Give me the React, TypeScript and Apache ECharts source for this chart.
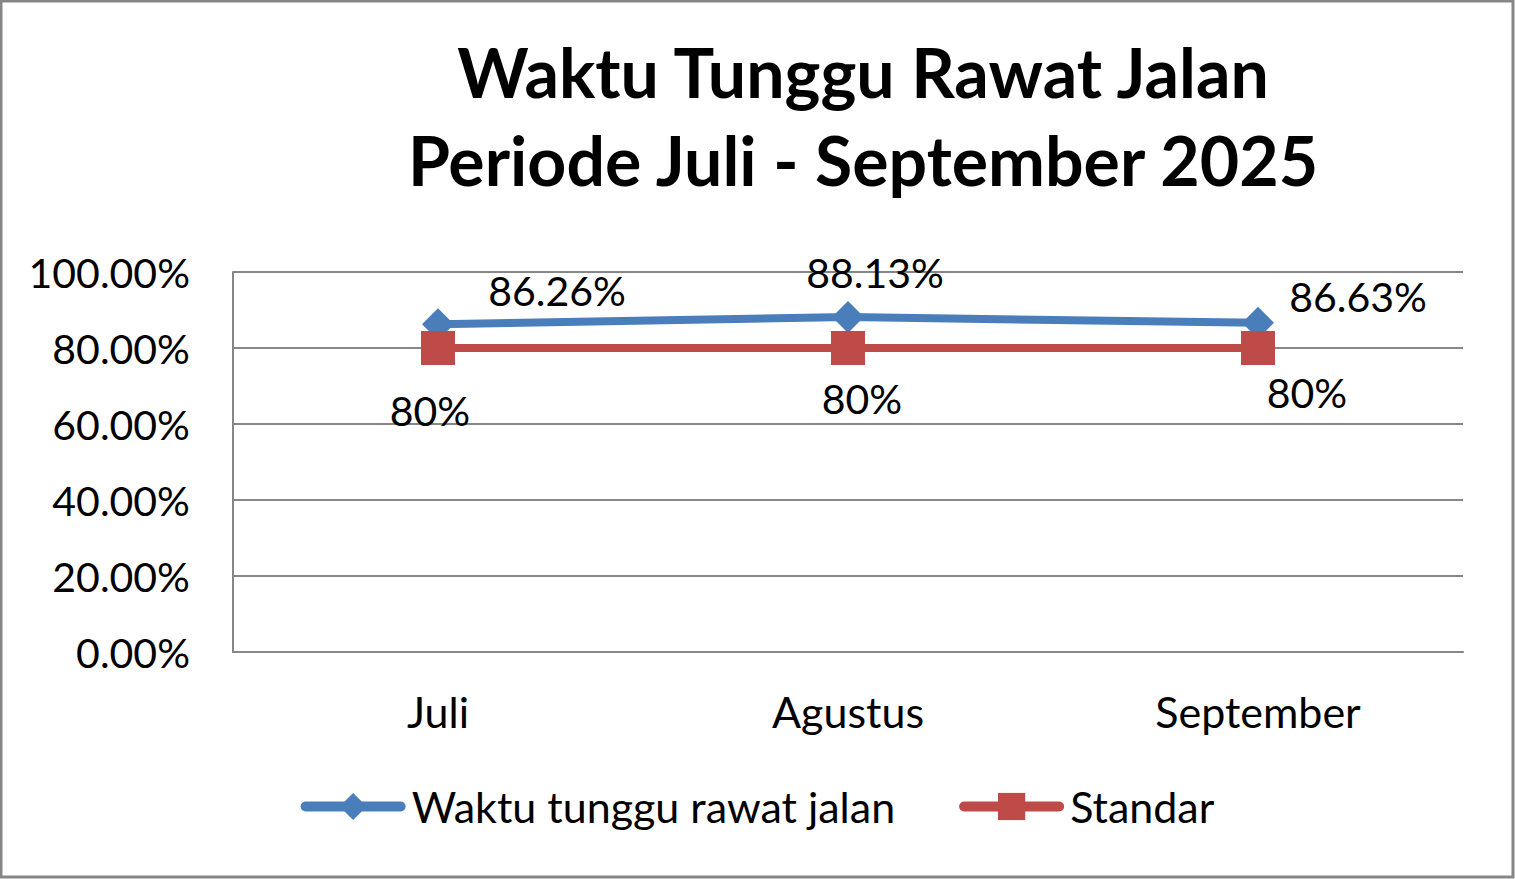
import React, { useEffect, useRef } from 'react';
import * as echarts from 'echarts';

const months = ['Juli', 'Agustus', 'September'];
const waktuTunggu = [86.26, 88.13, 86.63];
const standar = [80, 80, 80];
const yTicks = [0, 20, 40, 60, 80, 100];

// label offsets (dx, dy) from each point, as placed in the original sheet
const waktuLabelOffsets = [[119, -34], [27, -45], [100, -26]];
const standarLabelOffsets = [[-8, 62], [14, 50], [49, 44]];

const FONT = 'Lato, "Open Sans", sans-serif';
const GRID_GRAY = '#868686';
const BLUE = '#4A7EBB';
const RED = '#BE4B48';

const App: React.FC = () => {
    const chartRef = useRef<HTMLDivElement>(null);

    useEffect(() => {
        if (!chartRef.current) return;
        const chart = echarts.init(chartRef.current, undefined, { renderer: 'svg' });

        const labelStyle = {
            show: true,
            position: 'inside' as const,
            color: '#000',
            fontFamily: FONT,
            fontSize: 41,
            formatter: (p: any) => (p.seriesIndex === 1 ? `${p.value}%` : `${p.value.toFixed(2)}%`),
        };

        const option: echarts.EChartsOption = {
            animation: false,
            backgroundColor: '#fff',
            textStyle: { fontFamily: FONT },
            title: {
                text: 'Waktu Tunggu Rawat Jalan\nPeriode Juli - September 2025',
                left: 858,
                top: 22,
                textAlign: 'center',
                textStyle: {
                    fontFamily: FONT,
                    fontWeight: 'bold',
                    fontSize: 68,
                    lineHeight: 88,
                    color: '#000',
                },
            },
            graphic: [
                {
                    type: 'rect',
                    shape: { x: 1, y: 1, width: 1512, height: 876 },
                    style: { fill: 'none', stroke: GRID_GRAY, lineWidth: 3 },
                    silent: true,
                    z: 100,
                },
            ],
            legend: {
                left: 'center',
                top: 780,
                itemWidth: 95,
                itemHeight: 34,
                itemGap: 64,
                lineStyle: { width: 10, cap: 'round' },
                textStyle: {
                    fontFamily: FONT,
                    fontSize: 43,
                    color: '#000',
                    padding: [0, 0, 0, 6],
                },
                data: ['Waktu tunggu rawat jalan', 'Standar'],
            },
            grid: { left: 233, right: 52, top: 272, bottom: 227 },
            xAxis: {
                type: 'category',
                data: months,
                boundaryGap: true,
                axisLine: { lineStyle: { color: GRID_GRAY, width: 2 } },
                axisTick: { show: false },
                axisLabel: {
                    fontFamily: FONT,
                    fontSize: 43,
                    color: '#000',
                    margin: 38,
                },
            },
            yAxis: {
                type: 'value',
                min: yTicks[0],
                max: yTicks[yTicks.length - 1],
                interval: 20,
                axisLine: { show: true, lineStyle: { color: GRID_GRAY, width: 2 } },
                axisTick: { show: false },
                splitLine: { lineStyle: { color: GRID_GRAY, width: 2 } },
                axisLabel: {
                    fontFamily: FONT,
                    fontSize: 41,
                    color: '#000',
                    margin: 43,
                    formatter: (v: number) => `${v.toFixed(2)}%`,
                },
            },
            series: [
                {
                    name: 'Waktu tunggu rawat jalan',
                    type: 'line',
                    symbol: 'diamond',
                    symbolSize: 32,
                    itemStyle: { color: BLUE },
                    lineStyle: { color: BLUE, width: 8 },
                    data: waktuTunggu.map((v, i) => ({
                        value: v,
                        label: { ...labelStyle, offset: waktuLabelOffsets[i] },
                    })),
                },
                {
                    name: 'Standar',
                    type: 'line',
                    symbol: 'rect',
                    symbolSize: 34,
                    itemStyle: { color: RED },
                    lineStyle: { color: RED, width: 8 },
                    data: standar.map((v, i) => ({
                        value: v,
                        label: { ...labelStyle, offset: standarLabelOffsets[i] },
                    })),
                },
            ],
        };

        chart.setOption(option);
        return () => chart.dispose();
    }, []);

    return (
        <div
            ref={chartRef}
            style={{ position: 'absolute', left: 0, top: 0, width: 1515, height: 879 }}
        />
    );
};

export default App;
